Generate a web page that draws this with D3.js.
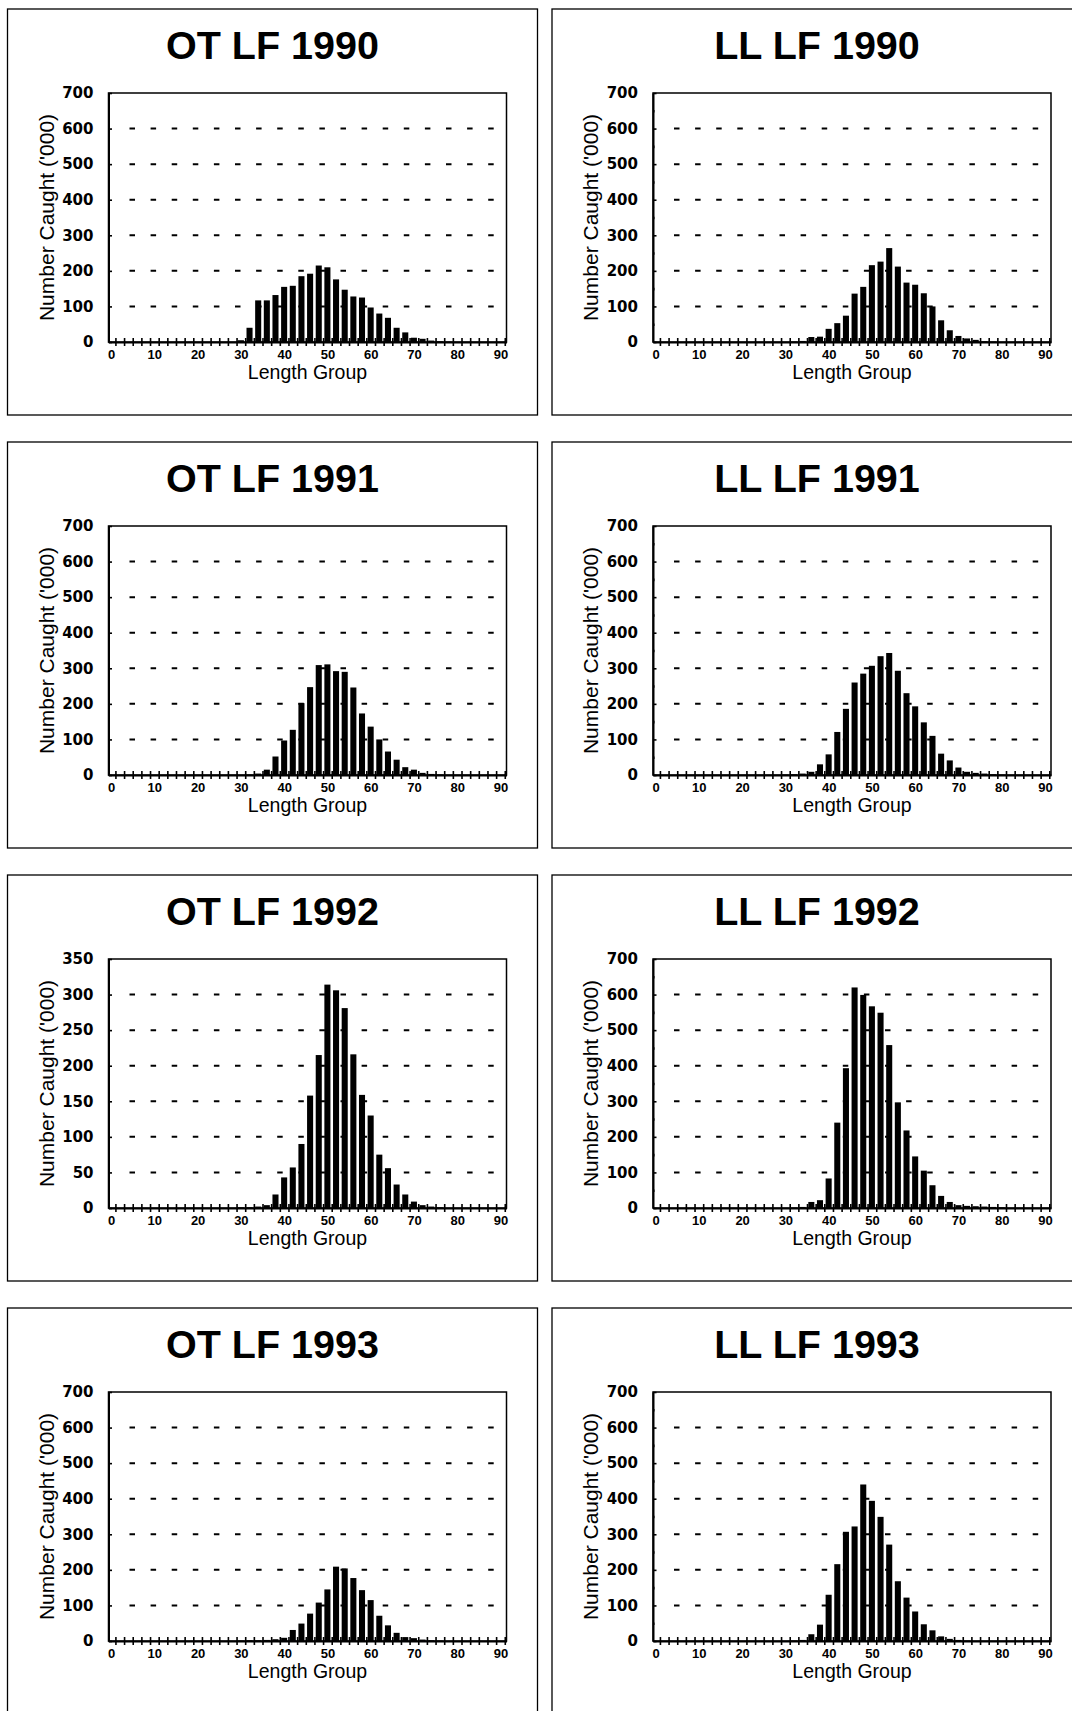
<!DOCTYPE html>
<html>
<head>
<meta charset="utf-8">
<script src="https://cdn.jsdelivr.net/npm/d3@7"></script>
<style>
  html, body { margin: 0; padding: 0; background: #fff; overflow: hidden; }
  svg { display: block; }
  text { font-family: "Liberation Sans", Arial, Helvetica, sans-serif; fill: #000; }
</style>
</head>
<body>
<svg id="chart" width="1072" height="1711"></svg>
<script>
// Length groups (cm) carrying catches; all other groups are zero
const lengthGroups = [30, 32, 34, 36, 38, 40, 42, 44, 46, 48, 50, 52, 54, 56, 58, 60, 62, 64, 66, 68, 70, 72, 74, 76, 78, 80];

// Number caught ('000) per length group
const otLF1990 = [5, 40, 117, 117, 132, 155, 158, 185, 192, 215, 210, 176, 147, 128, 125, 97, 80, 68, 40, 27, 12, 9, 4, 2, 1, 0];
const llLF1990 = [0, 1, 3, 14, 15, 37, 53, 74, 136, 155, 216, 226, 264, 212, 167, 161, 137, 100, 61, 33, 17, 10, 6, 2, 1, 0];
const otLF1991 = [0, 1, 4, 15, 52, 97, 127, 202, 247, 309, 311, 292, 290, 246, 173, 136, 100, 66, 43, 22, 15, 6, 3, 1, 0, 0];
const llLF1991 = [1, 2, 4, 9, 30, 58, 121, 186, 260, 285, 307, 334, 343, 293, 230, 193, 148, 110, 60, 41, 21, 9, 6, 4, 2, 1];
const otLF1992 = [1, 1, 2, 4, 19, 43, 57, 90, 158, 215, 314, 306, 281, 216, 159, 130, 75, 56, 33, 19, 9, 4, 2, 1, 0, 0];
const llLF1992 = [0, 1, 3, 17, 22, 83, 240, 393, 620, 599, 567, 549, 458, 297, 218, 145, 105, 64, 34, 17, 8, 6, 5, 4, 3, 2];
const otLF1993 = [1, 2, 2, 3, 5, 9, 31, 49, 77, 108, 145, 209, 204, 177, 143, 115, 71, 44, 23, 11, 8, 4, 2, 1, 0, 0];
const llLF1993 = [0, 1, 3, 19, 46, 130, 216, 307, 322, 440, 394, 349, 271, 168, 122, 83, 47, 30, 13, 6, 3, 1, 0, 0, 0, 0];

// Axis labels
const xTickLabels = [0, 10, 20, 30, 40, 50, 60, 70, 80, 90];
const yTicks700 = [0, 100, 200, 300, 400, 500, 600, 700];
const yTicks350 = [0, 50, 100, 150, 200, 250, 300, 350];

const panels = [
  { title: "OT LF 1990", values: otLF1990, yTicks: yTicks700 },
  { title: "LL LF 1990", values: llLF1990, yTicks: yTicks700 },
  { title: "OT LF 1991", values: otLF1991, yTicks: yTicks700 },
  { title: "LL LF 1991", values: llLF1991, yTicks: yTicks700 },
  { title: "OT LF 1992", values: otLF1992, yTicks: yTicks350 },
  { title: "LL LF 1992", values: llLF1992, yTicks: yTicks700 },
  { title: "OT LF 1993", values: otLF1993, yTicks: yTicks700 },
  { title: "LL LF 1993", values: llLF1993, yTicks: yTicks700 }
];

// Page layout: two columns of framed panels, four rows
const panelW = 530, panelH = 406;
const colX = [7.5, 552];
const rowY = [9, 442, 875, 1308];
const plot = { left: 101, right: 499, top: 84, bottom: 333 };

const svg = d3.select("#chart");

panels.forEach((p, i) => {
  const col = i % 2, row = Math.floor(i / 2);
  const g = svg.append("g").attr("transform", `translate(${colX[col]},${rowY[row]})`);

  // panel frame
  g.append("rect")
    .attr("x", 0).attr("y", 0).attr("width", panelW).attr("height", panelH)
    .attr("fill", "none").attr("stroke", "#000").attr("stroke-width", 1.3);

  // title
  g.append("text")
    .attr("x", panelW / 2).attr("y", 50)
    .attr("text-anchor", "middle")
    .attr("font-size", 39.5).attr("font-weight", "bold")
    .text(p.title);

  const yMax = p.yTicks[p.yTicks.length - 1];
  const yStep = p.yTicks[1] - p.yTicks[0];
  const x = d3.scaleLinear().domain([-0.6, 91.4]).range([plot.left, plot.right]);
  const y = d3.scaleLinear().domain([0, yMax]).range([plot.bottom, plot.top]);

  // dashed horizontal gridlines
  g.append("g").selectAll("line")
    .data(p.yTicks.filter(t => t > 0 && t < yMax))
    .join("line")
    .attr("x1", plot.left + 21).attr("x2", plot.right - 6)
    .attr("y1", d => y(d)).attr("y2", d => y(d))
    .attr("stroke", "#000").attr("stroke-width", 2)
    .attr("stroke-dasharray", "5.5,15.6");

  // bars
  const barW = x(1.4) - x(0);
  g.append("g").selectAll("rect")
    .data(lengthGroups.map((L, k) => ({ L, v: p.values[k] })))
    .join("rect")
    .attr("x", d => x(d.L) - barW / 2)
    .attr("width", barW)
    .attr("y", d => y(d.v))
    .attr("height", d => y(0) - y(d.v))
    .attr("fill", "#000");

  // plot frame
  g.append("rect")
    .attr("x", plot.left).attr("y", plot.top)
    .attr("width", plot.right - plot.left).attr("height", plot.bottom - plot.top)
    .attr("fill", "none").attr("stroke", "#000").attr("stroke-width", 1.5);

  // x axis: crossing tick marks between length groups
  const xMinor = g.append("g").attr("transform", `translate(0,${plot.bottom})`)
    .call(d3.axisBottom(x).tickValues(d3.range(1, 92, 2)).tickFormat("").tickSizeInner(4).tickSizeOuter(0));
  xMinor.select(".domain").attr("stroke-width", 2.2);
  xMinor.selectAll(".tick line").attr("y1", -4).attr("stroke-width", 1.6);

  // x axis labels
  const xLab = g.append("g").attr("transform", `translate(0,${plot.bottom})`)
    .call(d3.axisBottom(x).tickValues(xTickLabels).tickSize(0).tickPadding(8));
  xLab.select(".domain").remove();
  xLab.selectAll("text")
    .attr("font-size", 13).attr("font-weight", "bold")
    .style("font-family", "'Liberation Sans', Arial, sans-serif");

  // y axis: dot ticks at half steps, crossing ticks at labelled steps
  const yMinor = g.append("g").attr("transform", `translate(${plot.left},0)`)
    .call(d3.axisLeft(y).tickValues(d3.range(yStep / 2, yMax, yStep)).tickFormat("").tickSizeInner(1.5).tickSizeOuter(0));
  yMinor.select(".domain").attr("stroke-width", 2);
  yMinor.selectAll(".tick line").attr("x2", 1.5).attr("stroke-width", 2.6);

  const yLab = g.append("g").attr("transform", `translate(${plot.left},0)`)
    .call(d3.axisLeft(y).tickValues(p.yTicks).tickSizeInner(3.5).tickSizeOuter(0).tickPadding(11.5));
  yLab.select(".domain").remove();
  yLab.selectAll(".tick line").attr("x2", 3.5).attr("stroke-width", 1.6);
  yLab.selectAll("text")
    .attr("font-size", 15).attr("font-weight", "bold")
    .style("font-family", "'DejaVu Sans', sans-serif");

  // axis titles
  g.append("text")
    .attr("transform", `translate(46,${(plot.top + plot.bottom) / 2}) rotate(-90)`)
    .attr("text-anchor", "middle")
    .attr("font-size", 21)
    .text("Number Caught ('000)");

  g.append("text")
    .attr("x", (plot.left + plot.right) / 2).attr("y", plot.bottom + 37)
    .attr("text-anchor", "middle")
    .attr("font-size", 19.5)
    .text("Length Group");
});
</script>
</body>
</html>
